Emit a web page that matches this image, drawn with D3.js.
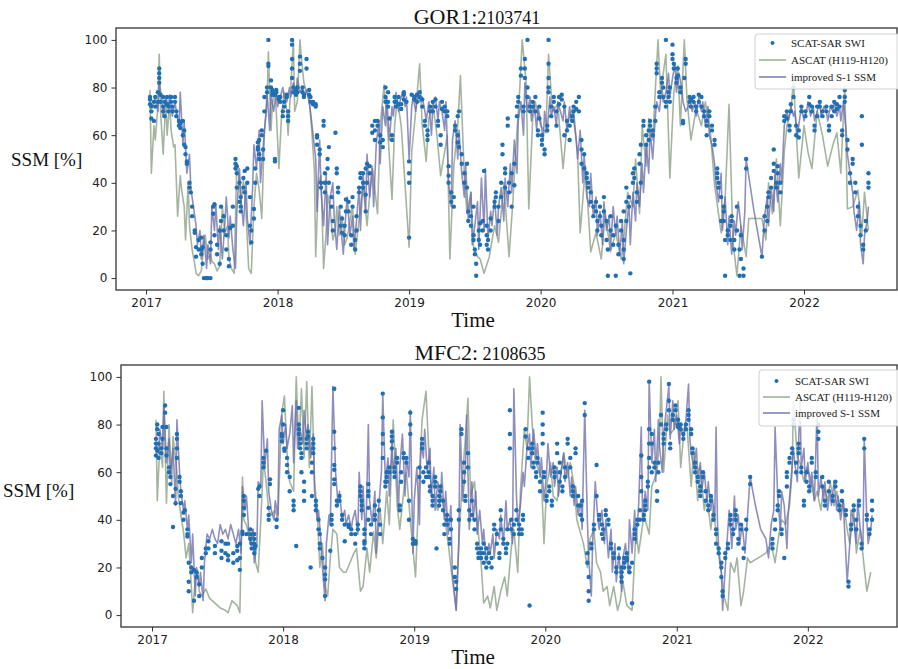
<!DOCTYPE html>
<html>
<head>
<meta charset="utf-8">
<script src="https://cdn.jsdelivr.net/npm/d3@7"></script>
<style>
  body { margin: 0; background: #fff; }
  svg { display: block; }
</style>
</head>
<body>
<svg id="chart" width="898" height="669"></svg>
<script>
// ---- Axis ticks ----
const yearTicks = [2017, 2018, 2019, 2020, 2021, 2022];
const ssmTicks = [0, 20, 40, 60, 80, 100];
const seriesNames = ["SCAT-SAR SWI", "ASCAT (H119-H120)", "improved S-1 SSM"];

// ---- GOR1: 2103741 ----
// SWI: [decimal year, value, value, ...] (several retrievals per date)
const gorSwi = [
[2017.03,73,75,76],[2017.04,70,67,72],[2017.06,74,66],[2017.07,72,76],[2017.09,78,74],[2017.10,82,84,86,88],[2017.11,77,74],[2017.13,76,72,70],[2017.14,74,68],[2017.16,76,73],[2017.17,72,70],[2017.19,76,74],[2017.20,70,72],[2017.22,74,76],[2017.23,68,70],[2017.25,66,64],[2017.26,65,63],[2017.28,66,60],[2017.29,56,62],[2017.30,55,52],[2017.31,48,49],[2017.33,40,38],[2017.34,36],[2017.35,30,26],[2017.37,20,19],[2017.38,13,9],[2017.40,16,12],[2017.42,10,12,17],[2017.43,6,13],[2017.44,0],[2017.46,0,0],[2017.47,0],[2017.49,0,12,15],[2017.51,30,27],[2017.52,31,18],[2017.54,10,14],[2017.56,6,20],[2017.57,24,30],[2017.59,20,26],[2017.61,18,12],[2017.63,5,8],[2017.64,21],[2017.66,22,30],[2017.68,50,48,46],[2017.69,47,44,38],[2017.71,40,32],[2017.72,34,30,28],[2017.74,42,38],[2017.75,45,36],[2017.77,46,40],[2017.79,34,22],[2017.80,20,15],[2017.82,25,29],[2017.83,40,46],[2017.85,55,57,54],[2017.86,58,52,50],[2017.88,62,60],[2017.89,50,54],[2017.90,70,76],[2017.92,78,80],[2017.93,100,89,90],[2017.95,83,80],[2017.96,78,77,79],[2017.98,77,49,50],[2017.99,79,78],[2018.01,76,75],[2018.02,76,74],[2018.04,70,68],[2018.05,72,74],[2018.07,76,77],[2018.08,70,68,66],[2018.11,100,98,92,88,84],[2018.12,78,80],[2018.14,79,77],[2018.15,80,78],[2018.17,93,90,87],[2018.19,78,80],[2018.20,76,77],[2018.22,92,88],[2018.24,77,79],[2018.25,76,74],[2018.27,73,74],[2018.29,73,72],[2018.30,59,56,60],[2018.32,54,52],[2018.33,40,38],[2018.35,64,66],[2018.36,44,40,36],[2018.38,50,46],[2018.39,55,40],[2018.41,30,34],[2018.42,24,20],[2018.44,61],[2018.45,46,44],[2018.46,38,36],[2018.48,30,22],[2018.49,25,19],[2018.51,18,22],[2018.52,28,33],[2018.54,32,28],[2018.56,18,14],[2018.57,30,34],[2018.59,12,16],[2018.60,20,26],[2018.62,36,38],[2018.63,42,44],[2018.65,40,38,44],[2018.67,46,35,28],[2018.68,40,48],[2018.70,47,44],[2018.72,61,64],[2018.74,66,62,58],[2018.76,66,64],[2018.78,60,57],[2018.80,58,55],[2018.82,80,76,74],[2018.84,78,74,72],[2018.85,67],[2018.87,60,58],[2018.89,74,76],[2018.90,72,74],[2018.92,76,73],[2018.94,73,71],[2018.96,78,77,75],[2018.98,74],[2019.00,49,44,40,17],[2019.02,77],[2019.04,75,76],[2019.06,77,74],[2019.08,76,78],[2019.10,72,75],[2019.12,64,66],[2019.14,62,60,58],[2019.16,70,72],[2019.18,74,70],[2019.20,72,75],[2019.22,66,64],[2019.24,56,60],[2019.25,74,71],[2019.27,72,70],[2019.29,68,70],[2019.30,47,43,40],[2019.32,36,32],[2019.34,30,34],[2019.35,62,64],[2019.37,68,60,57],[2019.38,70,55],[2019.40,48,52],[2019.42,44,40],[2019.44,48,38],[2019.45,28,24],[2019.47,22,26],[2019.49,18,16,30],[2019.50,12,10],[2019.51,1,6],[2019.53,16,20],[2019.54,14,23],[2019.56,20,24],[2019.57,45],[2019.59,22,18,14],[2019.60,16,12],[2019.62,25,20],[2019.65,32,30],[2019.66,34,36],[2019.68,30,24],[2019.70,34,40],[2019.71,52,56],[2019.73,44,46,38],[2019.75,67,64],[2019.76,40,36],[2019.78,44,30],[2019.80,39,48],[2019.82,68,72],[2019.83,74,76],[2019.85,88,85],[2019.87,72,70],[2019.88,92,88,84],[2019.90,100,80,76],[2019.92,70,72],[2019.94,74,72],[2019.96,76,70],[2019.98,60,62],[2019.99,67,72],[2020.01,58,60,56],[2020.03,52,54],[2020.05,62,64],[2020.06,100,90,84,80,78],[2020.08,72,68],[2020.10,76,74],[2020.12,70,64],[2020.14,76,73],[2020.16,77,75],[2020.18,72,60],[2020.20,66,62],[2020.22,64,58],[2020.24,68,66],[2020.25,72,70],[2020.27,74,71],[2020.29,76,70],[2020.31,58,54,48],[2020.33,52,46],[2020.35,44,42],[2020.36,38,40],[2020.38,32,36],[2020.40,30,26],[2020.42,32,28],[2020.43,20,24],[2020.45,26,30],[2020.46,18,22],[2020.48,28,34],[2020.50,24,16],[2020.51,1,12],[2020.53,20,26],[2020.55,14,18],[2020.57,1,22],[2020.59,14,10],[2020.61,24,20],[2020.63,16,12,28,8],[2020.65,32,38,24],[2020.67,34,30],[2020.68,2],[2020.70,40,44],[2020.71,46,42],[2020.73,36,32],[2020.75,48,52],[2020.76,56,40],[2020.78,64,66],[2020.80,60,56],[2020.82,62,58],[2020.83,66,64],[2020.85,60,62],[2020.87,66,72],[2020.88,90,88,86],[2020.90,76,78],[2020.92,84,82],[2020.93,80,76],[2020.95,100,74,72],[2020.97,78,76],[2020.98,74,80],[2021.00,98,94,92],[2021.01,90,88],[2021.03,84,82],[2021.04,88,85],[2021.06,78,80],[2021.08,65,66],[2021.09,84],[2021.10,92,90],[2021.13,74,76],[2021.14,72,75],[2021.16,74,76],[2021.18,72,70],[2021.20,74,77],[2021.22,72,76],[2021.24,70,68],[2021.26,66,64,60],[2021.28,68,70],[2021.30,64,62],[2021.32,56,58],[2021.34,46,44,42],[2021.35,40,38],[2021.37,34,24],[2021.39,30,28,24],[2021.40,16,1],[2021.42,20,18],[2021.44,22,16],[2021.45,24,26],[2021.47,12,16],[2021.49,30,20],[2021.51,1,12],[2021.52,18,8],[2021.54,4,1],[2021.56,50,46],[2021.68,9],[2021.70,26,20],[2021.72,30,24],[2021.73,34,36],[2021.75,38,42],[2021.77,54,48,45],[2021.79,38,40],[2021.80,44,47],[2021.82,40,36],[2021.85,68,66],[2021.87,70,67],[2021.89,64,62],[2021.90,70,73],[2021.92,80,76],[2021.94,64,60],[2021.96,59,62],[2021.98,72,70],[2022.01,68,70],[2022.04,76,73],[2022.06,70,72],[2022.08,62,64],[2022.10,72,68],[2022.12,74,72],[2022.14,70,68],[2022.17,72,70],[2022.19,62,64],[2022.21,72,68],[2022.23,70,74],[2022.25,73,71],[2022.27,72,76],[2022.29,60,62],[2022.31,79,76,74],[2022.33,54,58],[2022.35,44,40],[2022.37,48,50],[2022.39,36,40],[2022.41,30,26],[2022.43,22,18],[2022.44,68,56],[2022.45,12,14],[2022.47,20,24],[2022.49,44,40,38]
];
const gorAscat = [
[2017.03,79],[2017.04,44],[2017.06,64],[2017.07,58],[2017.09,72],[2017.10,94],[2017.11,70],[2017.13,52],[2017.15,75],[2017.16,60],[2017.18,74],[2017.19,62],[2017.21,55],[2017.22,56],[2017.24,26],[2017.26,43],[2017.27,37],[2017.29,30],[2017.30,16],[2017.32,40],[2017.33,22],[2017.35,12],[2017.37,6],[2017.38,2],[2017.40,1],[2017.42,3],[2017.44,14],[2017.45,18],[2017.47,8],[2017.49,10],[2017.50,7],[2017.52,6],[2017.54,3],[2017.56,5],[2017.58,30],[2017.60,19],[2017.62,22],[2017.63,8],[2017.65,4],[2017.67,2],[2017.69,48],[2017.71,42],[2017.72,31],[2017.74,41],[2017.76,28],[2017.78,4],[2017.80,2],[2017.82,30],[2017.84,44],[2017.86,37],[2017.88,25],[2017.90,62],[2017.92,74],[2017.93,95],[2017.95,62],[2017.96,73],[2017.98,79],[2017.99,70],[2018.01,46],[2018.03,68],[2018.05,78],[2018.07,70],[2018.08,60],[2018.10,80],[2018.12,100],[2018.13,70],[2018.15,74],[2018.17,100],[2018.18,93],[2018.20,82],[2018.22,78],[2018.24,75],[2018.26,62],[2018.28,45],[2018.29,9],[2018.31,40],[2018.33,43],[2018.35,4],[2018.37,20],[2018.38,35],[2018.40,29],[2018.42,16],[2018.44,20],[2018.45,30],[2018.47,18],[2018.49,26],[2018.51,14],[2018.53,17],[2018.55,24],[2018.57,30],[2018.59,10],[2018.61,20],[2018.65,39],[2018.68,22],[2018.72,47],[2018.76,27],[2018.78,64],[2018.81,81],[2018.84,60],[2018.87,33],[2018.89,64],[2018.91,75],[2018.94,64],[2018.96,47],[2019.00,13],[2019.02,53],[2019.05,70],[2019.08,90],[2019.10,64],[2019.13,49],[2019.15,67],[2019.18,73],[2019.21,61],[2019.24,43],[2019.27,53],[2019.29,60],[2019.31,8],[2019.34,47],[2019.37,64],[2019.39,85],[2019.42,43],[2019.44,27],[2019.47,36],[2019.49,13],[2019.52,9],[2019.54,8],[2019.57,2],[2019.61,9],[2019.65,22],[2019.68,15],[2019.72,40],[2019.76,9],[2019.79,33],[2019.81,53],[2019.84,78],[2019.86,100],[2019.89,82],[2019.91,29],[2019.94,67],[2019.96,74],[2020.00,64],[2020.04,61],[2020.06,94],[2020.09,70],[2020.13,73],[2020.17,46],[2020.20,64],[2020.24,71],[2020.28,53],[2020.30,19],[2020.34,47],[2020.38,11],[2020.42,19],[2020.46,8],[2020.49,27],[2020.53,11],[2020.57,19],[2020.61,8],[2020.63,16],[2020.66,36],[2020.70,30],[2020.72,50],[2020.75,27],[2020.77,64],[2020.80,47],[2020.82,67],[2020.85,58],[2020.89,100],[2020.91,78],[2020.95,94],[2020.98,42],[2021.01,78],[2021.04,89],[2021.06,64],[2021.09,100],[2021.11,75],[2021.14,58],[2021.18,71],[2021.22,64],[2021.25,74],[2021.29,60],[2021.32,39],[2021.35,27],[2021.37,19],[2021.40,33],[2021.43,73],[2021.46,15],[2021.49,1],[2021.52,22],[2021.56,9],[2021.58,25],[2021.68,25],[2021.71,16],[2021.73,40],[2021.76,27],[2021.79,50],[2021.82,22],[2021.85,53],[2021.87,64],[2021.90,70],[2021.92,83],[2021.96,42],[2022.00,64],[2022.03,53],[2022.06,46],[2022.10,70],[2022.14,60],[2022.18,47],[2022.22,56],[2022.25,61],[2022.28,44],[2022.31,81],[2022.33,29],[2022.37,30],[2022.41,37],[2022.44,19],[2022.46,36],[2022.49,20]
];
const gorS1 = [
[2017.03,74],[2017.05,72],[2017.07,76],[2017.09,70],[2017.10,82],[2017.12,75],[2017.13,68],[2017.15,76],[2017.17,72],[2017.18,77],[2017.20,68],[2017.22,74],[2017.23,70],[2017.25,64],[2017.26,78],[2017.28,56],[2017.29,66],[2017.31,44],[2017.33,52],[2017.34,38],[2017.36,30],[2017.38,22],[2017.39,14],[2017.41,20],[2017.42,8],[2017.44,18],[2017.46,4],[2017.47,14],[2017.49,6],[2017.50,30],[2017.52,20],[2017.53,31],[2017.55,12],[2017.56,22],[2017.58,8],[2017.60,24],[2017.61,34],[2017.63,17],[2017.64,26],[2017.66,12],[2017.68,4],[2017.69,28],[2017.71,46],[2017.72,34],[2017.74,22],[2017.76,40],[2017.77,25],[2017.79,14],[2017.81,38],[2017.82,56],[2017.84,46],[2017.86,62],[2017.87,40],[2017.89,55],[2017.91,68],[2017.92,78],[2017.94,62],[2017.95,77],[2017.97,70],[2017.99,78],[2018.00,72],[2018.02,76],[2018.04,80],[2018.05,76],[2018.07,74],[2018.09,80],[2018.10,76],[2018.12,82],[2018.14,77],[2018.15,84],[2018.17,78],[2018.19,80],[2018.20,76],[2018.22,79],[2018.24,74],[2018.25,70],[2018.27,60],[2018.29,50],[2018.30,28],[2018.32,58],[2018.33,38],[2018.35,22],[2018.37,44],[2018.38,14],[2018.40,34],[2018.42,40],[2018.43,26],[2018.45,12],[2018.47,30],[2018.48,22],[2018.50,10],[2018.52,28],[2018.53,34],[2018.55,18],[2018.57,26],[2018.58,12],[2018.60,24],[2018.62,38],[2018.63,20],[2018.65,44],[2018.67,28],[2018.68,52],[2018.70,34],[2018.72,46],[2018.73,30],[2018.75,56],[2018.77,66],[2018.78,48],[2018.80,72],[2018.82,64],[2018.83,76],[2018.85,58],[2018.87,72],[2018.88,68],[2018.90,78],[2018.92,70],[2018.93,74],[2018.95,78],[2018.97,72],[2018.98,76],[2019.00,50],[2019.02,72],[2019.03,76],[2019.05,70],[2019.07,78],[2019.08,74],[2019.10,76],[2019.12,70],[2019.13,66],[2019.15,74],[2019.17,60],[2019.18,72],[2019.20,76],[2019.22,66],[2019.23,74],[2019.25,70],[2019.27,62],[2019.28,74],[2019.30,40],[2019.32,30],[2019.33,58],[2019.35,66],[2019.37,50],[2019.38,62],[2019.40,44],[2019.42,34],[2019.43,48],[2019.45,24],[2019.47,36],[2019.48,14],[2019.50,22],[2019.52,32],[2019.53,12],[2019.55,42],[2019.57,20],[2019.58,46],[2019.60,16],[2019.62,28],[2019.63,22],[2019.65,34],[2019.67,18],[2019.68,30],[2019.70,38],[2019.72,24],[2019.73,42],[2019.75,30],[2019.77,48],[2019.78,36],[2019.80,58],[2019.82,44],[2019.83,66],[2019.85,74],[2019.87,60],[2019.88,82],[2019.90,70],[2019.92,76],[2019.93,66],[2019.95,74],[2019.97,62],[2019.98,72],[2020.00,66],[2020.02,58],[2020.03,70],[2020.05,62],[2020.07,76],[2020.08,68],[2020.10,72],[2020.12,64],[2020.13,74],[2020.15,70],[2020.17,66],[2020.18,74],[2020.20,62],[2020.22,72],[2020.23,66],[2020.25,70],[2020.27,58],[2020.28,50],[2020.30,62],[2020.32,40],[2020.33,52],[2020.35,34],[2020.37,30],[2020.38,44],[2020.40,26],[2020.42,34],[2020.43,18],[2020.45,28],[2020.47,14],[2020.48,32],[2020.50,20],[2020.52,26],[2020.53,12],[2020.55,30],[2020.57,18],[2020.58,26],[2020.60,10],[2020.62,24],[2020.63,6],[2020.65,20],[2020.67,32],[2020.68,14],[2020.70,36],[2020.72,24],[2020.73,40],[2020.75,30],[2020.77,48],[2020.78,36],[2020.80,56],[2020.82,44],[2020.83,62],[2020.85,50],[2020.87,68],[2020.88,74],[2020.90,70],[2020.92,80],[2020.93,74],[2020.95,78],[2020.97,86],[2020.98,76],[2021.00,84],[2021.02,90],[2021.03,78],[2021.05,86],[2021.07,80],[2021.08,74],[2021.10,70],[2021.12,72],[2021.13,76],[2021.15,70],[2021.17,74],[2021.18,68],[2021.20,76],[2021.22,70],[2021.23,74],[2021.25,64],[2021.27,72],[2021.28,60],[2021.30,56],[2021.32,48],[2021.33,40],[2021.35,32],[2021.37,44],[2021.38,20],[2021.40,34],[2021.42,14],[2021.43,26],[2021.45,10],[2021.47,24],[2021.48,18],[2021.50,32],[2021.52,22],[2021.53,12],[2021.55,28],[2021.56,50],[2021.62,28],[2021.68,9],[2021.70,26],[2021.72,34],[2021.73,22],[2021.75,38],[2021.77,28],[2021.78,44],[2021.80,32],[2021.82,48],[2021.83,40],[2021.85,64],[2021.87,70],[2021.88,66],[2021.90,72],[2021.92,68],[2021.93,70],[2021.95,60],[2021.97,68],[2021.98,72],[2022.00,66],[2022.02,70],[2022.03,74],[2022.05,68],[2022.07,72],[2022.08,66],[2022.10,70],[2022.12,74],[2022.13,68],[2022.15,72],[2022.17,70],[2022.18,66],[2022.20,72],[2022.22,70],[2022.23,74],[2022.25,68],[2022.27,72],[2022.28,66],[2022.30,74],[2022.32,62],[2022.33,52],[2022.35,44],[2022.37,36],[2022.38,28],[2022.40,20],[2022.42,32],[2022.43,14],[2022.45,6],[2022.46,18],[2022.48,24],[2022.49,30]
];

// ---- MFC2: 2108635 ----
const mfcSwi = [
[2017.03,74,72,70,67],[2017.04,80,78,69],[2017.05,76,72,66],[2017.07,68,70],[2017.08,74,79],[2017.10,88,85],[2017.11,79,70,67],[2017.13,62,60],[2017.14,58,55],[2017.16,50,37],[2017.18,47,53],[2017.19,76,74,70,66],[2017.21,58,56],[2017.22,52,50,47],[2017.24,43,40],[2017.25,44],[2017.27,36,34,33],[2017.28,22,14,10],[2017.30,20,18],[2017.32,6,19],[2017.34,18,16],[2017.36,8,13],[2017.38,20,24],[2017.41,26,28],[2017.43,31,28],[2017.48,29,26],[2017.53,31,27,24],[2017.56,30,26],[2017.58,30,25,23],[2017.62,26,22],[2017.65,29,27,23],[2017.67,30,24,19],[2017.69,34,35],[2017.70,42,45,48,50],[2017.72,34],[2017.75,36,34,32],[2017.76,30,28],[2017.78,34,32,30,28,26],[2017.79,29],[2017.81,53],[2017.82,54,50],[2017.85,66,64,62],[2017.87,69],[2017.89,45,42,40],[2017.90,55,57],[2017.95,37,40],[2017.99,75,73,76],[2018.00,86,80],[2018.01,69,70],[2018.03,66,63,60],[2018.05,58,52],[2018.08,48,44,46],[2018.10,29],[2018.12,76,78,80,87],[2018.13,72,70,74],[2018.14,66,68,60],[2018.16,52,56,48],[2018.18,74,72,70],[2018.19,75,77],[2018.21,20],[2018.22,64,60,50],[2018.23,74,72,70,68],[2018.25,48,46,44],[2018.27,40,36],[2018.28,34,30,28],[2018.30,24],[2018.32,20,17,15,8],[2018.36,27],[2018.37,42,40,38],[2018.39,95,77,70,63,61,57,55],[2018.41,48,46],[2018.43,50,48],[2018.45,42,40],[2018.47,38,31],[2018.50,38,37],[2018.52,36,34],[2018.55,34,30],[2018.57,36,38],[2018.59,54,52,50],[2018.60,48,46,44],[2018.62,36,34,31,30,28],[2018.65,40,45,55,52,50],[2018.67,38,34],[2018.70,46,42,40],[2018.73,44,48],[2018.74,38,34],[2018.76,93,83,76,72,66],[2018.78,56,54],[2018.79,60,58,56],[2018.81,62,60],[2018.83,77,75,73,70],[2018.85,62,60,58],[2018.87,66,64],[2018.89,44,46],[2018.90,56,60],[2018.92,66,68],[2018.94,64,66],[2018.96,48,40],[2018.97,85,80,76],[2018.99,30,32],[2019.01,30,31],[2019.04,58,62],[2019.06,72,74,70],[2019.07,60,56],[2019.09,58,62],[2019.11,64,60,58],[2019.12,54,52],[2019.14,48,46,50],[2019.16,58,56,54],[2019.17,28],[2019.19,50,48,46],[2019.20,54,52],[2019.22,48,44],[2019.23,38,34],[2019.25,42,40,38],[2019.27,32,30],[2019.28,40,36],[2019.31,20,16],[2019.32,14,11],[2019.34,40,44],[2019.36,76,78],[2019.38,64,60,56],[2019.39,50,48],[2019.41,68,62],[2019.42,44,40],[2019.44,48,42],[2019.46,40,36],[2019.48,30,28],[2019.49,26,24],[2019.51,28,26,24],[2019.53,30,26,22],[2019.55,28,24,20],[2019.57,26,22],[2019.59,24,20],[2019.61,38,36],[2019.63,34,30],[2019.65,26,24],[2019.66,44,40,36],[2019.68,32,30],[2019.70,28,26],[2019.71,36,30],[2019.73,86,76,70],[2019.74,40,36],[2019.76,38,34],[2019.78,40,44],[2019.80,38,36,34],[2019.82,36,34],[2019.83,40,42],[2019.85,78,75],[2019.87,66,70],[2019.88,4],[2019.90,72,70,68],[2019.91,64,62],[2019.93,60,58],[2019.94,66,64],[2019.96,56,52],[2019.98,85,80,76,72],[2019.99,60,58],[2020.01,50,48],[2020.03,54,52],[2020.05,48,46],[2020.07,62,60,58],[2020.09,72,68],[2020.11,64,60,56],[2020.13,54,52],[2020.15,62,58],[2020.17,74,72],[2020.19,66,62],[2020.21,54,52,50],[2020.23,68,70],[2020.25,50,46],[2020.27,42,46],[2020.28,48,40],[2020.30,89,84],[2020.32,26,22],[2020.33,16,10,6],[2020.35,30,28],[2020.37,36,38],[2020.39,63,50],[2020.41,42,40],[2020.43,38,34],[2020.44,36,32],[2020.46,44,42],[2020.48,40,38],[2020.50,30,28],[2020.52,26,24],[2020.54,20,18],[2020.56,28,24],[2020.58,14,16,20,18],[2020.60,20,22,24],[2020.62,26,24,23],[2020.64,20,18],[2020.66,22,5],[2020.68,36,34,32],[2020.70,40,38],[2020.72,44,40],[2020.73,67,58,52],[2020.75,42,40],[2020.76,48,46,44],[2020.78,56,54],[2020.79,98,78,72,66,62],[2020.81,76,72,60],[2020.83,64,62],[2020.85,52,48],[2020.86,64,60],[2020.88,84,80],[2020.90,76,74,72],[2020.92,80,78],[2020.94,97,90,86],[2020.95,72,70],[2020.97,84,82],[2020.99,88,86],[2021.01,79,80,82],[2021.03,78,80],[2021.05,76,74],[2021.07,80,78],[2021.09,82,84,86],[2021.11,78,76],[2021.12,70,68],[2021.14,64,62,60],[2021.16,58,56],[2021.18,52,50,54],[2021.20,60,58],[2021.22,52,48],[2021.24,44,46],[2021.26,50,48],[2021.28,42,40],[2021.30,36,34,30],[2021.32,28,26],[2021.34,22,20,16],[2021.35,10,8],[2021.37,26,24],[2021.39,30,28],[2021.41,42,40,38],[2021.43,36,34],[2021.45,44,42,40],[2021.47,32,30],[2021.49,38,36],[2021.51,28,24],[2021.53,40,36],[2021.56,58,55],[2021.73,32,30,28],[2021.75,40,36],[2021.77,46,44],[2021.78,50,52],[2021.80,36,34],[2021.82,24],[2021.84,60,58,54],[2021.86,66,64],[2021.88,70,68],[2021.89,82,80],[2021.91,64,60],[2021.93,72,70,68],[2021.95,62,60],[2021.97,48,46],[2021.99,60,56],[2022.01,54,52],[2022.03,66,64],[2022.06,60,58],[2022.08,80,77,74],[2022.11,58,54],[2022.13,48,46],[2022.16,56,52],[2022.19,50,48],[2022.21,56,54],[2022.24,46,44],[2022.26,52,48],[2022.29,44,42],[2022.31,14,12],[2022.33,38,36],[2022.35,46,44],[2022.37,40,36],[2022.39,48,46],[2022.41,30,28],[2022.43,74,70],[2022.45,42,40],[2022.47,36,34],[2022.49,44,40,48]
];
const mfcAscat = [
[2017.03,82],[2017.04,48],[2017.06,72],[2017.08,62],[2017.09,94],[2017.11,47],[2017.13,80],[2017.15,55],[2017.16,75],[2017.19,60],[2017.20,50],[2017.22,42],[2017.24,35],[2017.26,24],[2017.28,30],[2017.30,12],[2017.31,1],[2017.33,15],[2017.35,18],[2017.36,10],[2017.38,8],[2017.41,11],[2017.44,7],[2017.48,5],[2017.52,3],[2017.56,2],[2017.58,1],[2017.61,6],[2017.63,5],[2017.65,4],[2017.67,1],[2017.69,58],[2017.70,40],[2017.72,38],[2017.75,30],[2017.77,36],[2017.79,22],[2017.81,18],[2017.83,40],[2017.85,65],[2017.87,56],[2017.89,44],[2017.91,42],[2017.94,44],[2017.96,40],[2017.99,85],[2018.01,92],[2018.03,68],[2018.05,56],[2018.08,52],[2018.10,100],[2018.12,70],[2018.14,95],[2018.16,66],[2018.18,98],[2018.20,62],[2018.22,96],[2018.24,56],[2018.26,44],[2018.28,20],[2018.30,30],[2018.32,12],[2018.34,8],[2018.36,24],[2018.38,36],[2018.41,34],[2018.43,20],[2018.46,18],[2018.48,18],[2018.51,22],[2018.54,26],[2018.56,28],[2018.59,10],[2018.61,12],[2018.64,28],[2018.66,18],[2018.69,35],[2018.71,24],[2018.74,45],[2018.76,30],[2018.79,52],[2018.81,38],[2018.84,82],[2018.87,46],[2018.89,36],[2018.92,52],[2018.94,60],[2018.97,40],[2019.01,16],[2019.04,58],[2019.06,82],[2019.09,94],[2019.11,70],[2019.13,52],[2019.16,48],[2019.18,44],[2019.21,50],[2019.23,42],[2019.26,30],[2019.28,20],[2019.32,2],[2019.34,30],[2019.37,60],[2019.39,74],[2019.41,91],[2019.43,50],[2019.46,56],[2019.48,40],[2019.51,22],[2019.53,5],[2019.56,8],[2019.58,3],[2019.61,12],[2019.63,2],[2019.66,10],[2019.69,16],[2019.71,8],[2019.74,28],[2019.76,36],[2019.79,18],[2019.81,52],[2019.84,78],[2019.86,70],[2019.88,100],[2019.90,80],[2019.92,66],[2019.94,62],[2019.97,58],[2019.99,30],[2020.01,54],[2020.04,64],[2020.06,50],[2020.09,48],[2020.11,56],[2020.14,68],[2020.17,58],[2020.19,64],[2020.22,54],[2020.24,40],[2020.27,34],[2020.29,30],[2020.32,20],[2020.34,32],[2020.37,36],[2020.39,22],[2020.42,18],[2020.44,10],[2020.47,12],[2020.49,4],[2020.52,12],[2020.55,2],[2020.57,6],[2020.59,14],[2020.62,4],[2020.66,2],[2020.69,36],[2020.71,26],[2020.75,42],[2020.79,34],[2020.81,54],[2020.85,60],[2020.87,76],[2020.88,100],[2020.90,60],[2020.93,84],[2020.95,76],[2020.98,78],[2021.01,90],[2021.03,62],[2021.06,80],[2021.08,78],[2021.11,54],[2021.13,70],[2021.16,48],[2021.18,62],[2021.21,44],[2021.23,50],[2021.26,36],[2021.28,46],[2021.31,28],[2021.34,18],[2021.36,8],[2021.39,2],[2021.41,22],[2021.44,18],[2021.46,24],[2021.49,4],[2021.51,10],[2021.54,24],[2021.56,22],[2021.68,26],[2021.72,30],[2021.75,22],[2021.78,34],[2021.80,40],[2021.83,38],[2021.86,46],[2021.88,60],[2021.89,90],[2021.92,66],[2021.94,64],[2021.97,56],[2021.99,62],[2022.02,58],[2022.05,48],[2022.07,52],[2022.10,44],[2022.12,54],[2022.15,48],[2022.17,56],[2022.20,46],[2022.22,52],[2022.25,44],[2022.27,48],[2022.30,36],[2022.32,30],[2022.35,44],[2022.37,26],[2022.40,36],[2022.43,20],[2022.45,10],[2022.48,18]
];
const mfcS1 = [
[2017.03,72],[2017.05,68],[2017.06,78],[2017.08,70],[2017.09,88],[2017.11,64],[2017.13,74],[2017.14,58],[2017.16,70],[2017.18,46],[2017.19,82],[2017.21,60],[2017.22,52],[2017.24,44],[2017.25,48],[2017.27,36],[2017.28,42],[2017.30,22],[2017.31,34],[2017.33,8],[2017.34,20],[2017.36,12],[2017.37,18],[2017.39,6],[2017.40,22],[2017.42,34],[2017.44,32],[2017.46,36],[2017.48,32],[2017.50,30],[2017.52,38],[2017.54,34],[2017.56,36],[2017.58,32],[2017.60,38],[2017.62,34],[2017.64,30],[2017.66,36],[2017.68,26],[2017.69,54],[2017.71,44],[2017.72,50],[2017.74,34],[2017.75,30],[2017.77,36],[2017.78,22],[2017.80,30],[2017.81,56],[2017.83,54],[2017.84,90],[2017.86,62],[2017.88,74],[2017.89,52],[2017.91,44],[2017.93,40],[2017.94,48],[2017.96,42],[2017.97,78],[2017.99,84],[2018.00,72],[2018.02,80],[2018.03,70],[2018.05,76],[2018.07,88],[2018.08,64],[2018.10,90],[2018.11,70],[2018.13,78],[2018.15,72],[2018.16,86],[2018.18,74],[2018.19,80],[2018.21,66],[2018.23,76],[2018.24,52],[2018.26,40],[2018.27,44],[2018.29,30],[2018.30,20],[2018.32,6],[2018.33,30],[2018.35,42],[2018.36,38],[2018.38,96],[2018.40,60],[2018.42,46],[2018.43,52],[2018.45,40],[2018.47,44],[2018.48,38],[2018.50,42],[2018.52,36],[2018.53,40],[2018.55,44],[2018.57,34],[2018.58,60],[2018.60,40],[2018.61,54],[2018.63,30],[2018.65,80],[2018.66,48],[2018.68,38],[2018.70,52],[2018.71,26],[2018.73,46],[2018.75,60],[2018.76,93],[2018.78,56],[2018.80,66],[2018.81,50],[2018.83,72],[2018.84,60],[2018.86,70],[2018.88,44],[2018.89,62],[2018.91,76],[2018.93,50],[2018.94,66],[2018.96,58],[2018.97,86],[2018.99,26],[2019.00,48],[2019.02,62],[2019.04,38],[2019.05,72],[2019.07,66],[2019.08,78],[2019.10,60],[2019.12,70],[2019.13,50],[2019.15,62],[2019.16,44],[2019.18,56],[2019.20,48],[2019.21,60],[2019.23,40],[2019.24,52],[2019.26,34],[2019.28,46],[2019.29,18],[2019.31,8],[2019.32,2],[2019.34,30],[2019.35,80],[2019.37,48],[2019.39,62],[2019.40,84],[2019.42,36],[2019.44,56],[2019.45,40],[2019.47,52],[2019.48,34],[2019.50,44],[2019.52,30],[2019.53,36],[2019.55,22],[2019.57,30],[2019.58,26],[2019.60,34],[2019.61,24],[2019.63,36],[2019.65,32],[2019.66,42],[2019.68,30],[2019.70,48],[2019.71,36],[2019.73,40],[2019.75,30],[2019.76,95],[2019.78,50],[2019.79,38],[2019.81,46],[2019.83,60],[2019.84,54],[2019.86,70],[2019.88,76],[2019.89,62],[2019.91,78],[2019.93,66],[2019.94,72],[2019.96,58],[2019.97,66],[2019.99,48],[2020.01,60],[2020.02,72],[2020.04,58],[2020.06,64],[2020.07,54],[2020.09,62],[2020.10,50],[2020.12,60],[2020.14,68],[2020.15,56],[2020.17,64],[2020.19,50],[2020.20,58],[2020.22,46],[2020.23,54],[2020.25,42],[2020.27,48],[2020.28,36],[2020.30,86],[2020.32,40],[2020.33,24],[2020.35,8],[2020.36,30],[2020.38,56],[2020.40,40],[2020.41,36],[2020.43,44],[2020.45,30],[2020.46,40],[2020.48,24],[2020.50,36],[2020.51,18],[2020.53,30],[2020.54,14],[2020.56,26],[2020.58,10],[2020.59,24],[2020.61,30],[2020.63,18],[2020.64,40],[2020.66,26],[2020.68,44],[2020.69,30],[2020.71,46],[2020.73,79],[2020.74,40],[2020.76,52],[2020.78,44],[2020.79,98],[2020.81,64],[2020.83,78],[2020.84,56],[2020.86,82],[2020.87,70],[2020.89,60],[2020.90,76],[2020.92,86],[2020.94,96],[2020.95,74],[2020.97,90],[2020.98,78],[2021.00,84],[2021.02,72],[2021.03,80],[2021.05,74],[2021.07,82],[2021.09,97],[2021.10,74],[2021.11,68],[2021.13,62],[2021.15,70],[2021.16,58],[2021.18,64],[2021.19,52],[2021.21,60],[2021.23,48],[2021.24,56],[2021.26,44],[2021.27,50],[2021.29,40],[2021.30,79],[2021.31,40],[2021.32,28],[2021.34,18],[2021.35,2],[2021.37,20],[2021.39,36],[2021.40,44],[2021.42,28],[2021.44,50],[2021.45,36],[2021.47,42],[2021.48,30],[2021.50,38],[2021.52,26],[2021.53,34],[2021.56,58],[2021.60,46],[2021.64,36],[2021.68,32],[2021.70,24],[2021.72,38],[2021.74,44],[2021.75,79],[2021.77,50],[2021.79,36],[2021.80,52],[2021.82,46],[2021.84,28],[2021.85,42],[2021.87,56],[2021.89,70],[2021.90,64],[2021.92,56],[2021.94,90],[2021.95,62],[2021.97,70],[2021.98,56],[2022.00,64],[2022.02,52],[2022.03,60],[2022.05,48],[2022.07,86],[2022.08,50],[2022.10,58],[2022.12,48],[2022.13,56],[2022.15,44],[2022.17,52],[2022.18,46],[2022.20,56],[2022.22,44],[2022.23,50],[2022.25,40],[2022.27,48],[2022.28,36],[2022.30,14],[2022.32,30],[2022.33,44],[2022.35,40],[2022.37,30],[2022.38,48],[2022.40,36],[2022.42,28],[2022.43,74],[2022.45,40],[2022.46,30],[2022.48,36],[2022.49,42]
];

// ---- Drawing ----
const svg = d3.select("#chart");
const COLORS = { swi: "#1f6fb2", ascat: "#94a88e", s1: "#6a6aa8" };
const SERIF = "'Liberation Serif', 'DejaVu Serif', serif";
const SANS = "'DejaVu Sans', sans-serif";

function yearToDate(y) {
  const yr = Math.floor(y);
  const start = Date.UTC(yr, 0, 1), end = Date.UTC(yr + 1, 0, 1);
  return new Date(start + (y - yr) * (end - start));
}

const panels = [
  { code: "GOR1:", id: "2103741", swi: gorSwi, ascat: gorAscat, s1: gorS1,
    box: { left: 116, top: 28, right: 897, bottom: 290 },
    xDomain: [2016.772, 2022.707], titleX: 477, titleY: 24,
    legend: { x: 755, y: 34, w: 145, h: 55, rows: [43, 60, 77] },
    timeX: 473, timeY: 327, ssmX: 11, ssmY: 166 },
  { code: "MFC2:", id: " 2108635", swi: mfcSwi, ascat: mfcAscat, s1: mfcS1,
    box: { left: 121, top: 365, right: 897, bottom: 627 },
    xDomain: [2016.764, 2022.68], titleX: 480, titleY: 360,
    legend: { x: 759, y: 370, w: 141, h: 56, rows: [381, 397, 413] },
    timeX: 473, timeY: 664, ssmX: 3, ssmY: 497 }
];

panels.forEach(p => {
  const b = p.box;
  const x = d3.scaleUtc().domain(p.xDomain.map(yearToDate)).range([b.left, b.right]);
  const y = d3.scaleLinear().domain([-5, 105]).range([b.bottom, b.top]);
  const g = svg.append("g");

  // title
  const t = g.append("text").attr("x", p.titleX).attr("y", p.titleY)
    .attr("text-anchor", "middle").attr("font-family", SERIF).attr("fill", "#111");
  t.append("tspan").attr("font-size", 22).text(p.code);
  t.append("tspan").attr("font-size", 18).text(p.id);

  const clipId = "clip-" + p.code.replace(":", "");
  svg.append("clipPath").attr("id", clipId).append("rect")
    .attr("x", b.left).attr("y", b.top).attr("width", b.right - b.left).attr("height", b.bottom - b.top);
  const plot = g.append("g").attr("clip-path", `url(#${clipId})`);

  const line = d3.line().x(d => x(yearToDate(d[0]))).y(d => y(d[1]));
  plot.append("path").datum(p.ascat).attr("d", line)
    .attr("fill", "none").attr("stroke", COLORS.ascat).attr("stroke-width", 1.6)
    .attr("stroke-opacity", 0.85).attr("stroke-linejoin", "round");
  plot.append("path").datum(p.s1).attr("d", line)
    .attr("fill", "none").attr("stroke", COLORS.s1).attr("stroke-width", 1.6)
    .attr("stroke-opacity", 0.75).attr("stroke-linejoin", "round");

  const pts = p.swi.flatMap(r => r.slice(1).map(v => [r[0], v]));
  plot.selectAll("circle.swi").data(pts).join("circle").attr("class", "swi")
    .attr("cx", d => x(yearToDate(d[0]))).attr("cy", d => y(d[1]))
    .attr("r", 2.2).attr("fill", COLORS.swi);

  // axes
  const xAxis = d3.axisBottom(x).tickValues(yearTicks.map(yearToDate))
    .tickFormat(d3.utcFormat("%Y")).tickSize(4.5).tickPadding(4);
  const gx = g.append("g").attr("transform", `translate(0,${b.bottom})`).call(xAxis);
  const yAxis = d3.axisLeft(y).tickValues(ssmTicks).tickSize(4.5).tickPadding(4);
  const gy = g.append("g").attr("transform", `translate(${b.left},0)`).call(yAxis);
  [gx, gy].forEach(a => {
    a.select(".domain").remove();
    a.selectAll(".tick line").attr("stroke", "#333").attr("stroke-width", 1);
    a.selectAll(".tick text").attr("font-family", SANS).attr("font-size", 12).attr("fill", "#222");
  });

  // frame
  g.append("rect").attr("x", b.left).attr("y", b.top)
    .attr("width", b.right - b.left).attr("height", b.bottom - b.top)
    .attr("fill", "none").attr("stroke", "#333").attr("stroke-width", 1.3);

  // axis labels
  g.append("text").attr("x", p.timeX).attr("y", p.timeY).attr("text-anchor", "middle")
    .attr("font-family", SERIF).attr("font-size", 21).attr("fill", "#111").text("Time");
  g.append("text").attr("x", p.ssmX).attr("y", p.ssmY)
    .attr("font-family", SERIF).attr("font-size", 19).attr("fill", "#111").text("SSM [%]");

  // legend
  const L = p.legend;
  const lg = g.append("g");
  lg.append("rect").attr("x", L.x).attr("y", L.y).attr("width", L.w).attr("height", L.h)
    .attr("rx", 3).attr("fill", "#fff").attr("fill-opacity", 0.85)
    .attr("stroke", "#d0d0d0").attr("stroke-width", 1);
  const sx0 = L.x + 4, sx1 = L.x + 31, tx = L.x + 36;
  lg.append("circle").attr("cx", (sx0 + sx1) / 2).attr("cy", L.rows[0]).attr("r", 2).attr("fill", COLORS.swi);
  lg.append("line").attr("x1", sx0).attr("x2", sx1).attr("y1", L.rows[1]).attr("y2", L.rows[1])
    .attr("stroke", COLORS.ascat).attr("stroke-width", 1.6).attr("stroke-opacity", 0.9);
  lg.append("line").attr("x1", sx0).attr("x2", sx1).attr("y1", L.rows[2]).attr("y2", L.rows[2])
    .attr("stroke", COLORS.s1).attr("stroke-width", 1.6).attr("stroke-opacity", 0.85);
  seriesNames.forEach((name, i) => {
    lg.append("text").attr("x", tx).attr("y", L.rows[i]).attr("dy", "0.35em")
      .attr("font-family", SERIF).attr("font-size", 11).attr("fill", "#222").text(name);
  });
});
</script>
</body>
</html>
